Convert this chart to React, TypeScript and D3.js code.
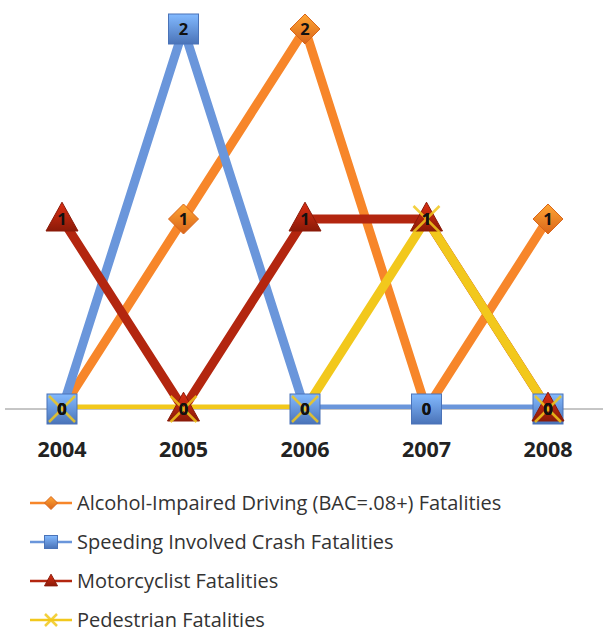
import React from "react";
import * as d3 from "d3";

const years = ["2004", "2005", "2006", "2007", "2008"];
const alcohol = [0, 1, 2, 0, 1];
const speeding = [0, 2, 0, 0, 0];
const motorcyclist = [1, 0, 1, 1, 0];
const pedestrian = [0, 0, 0, 1, 0];
const seriesNames = [
  "Alcohol-Impaired Driving (BAC=.08+) Fatalities",
  "Speeding Involved Crash Fatalities",
  "Motorcyclist Fatalities",
  "Pedestrian Fatalities",
];

const W = 605, H = 632;

const series = [
  { name: seriesNames[0], values: alcohol, color: "#F7862A", dark: "#D9651A", marker: "diamond" },
  { name: seriesNames[1], values: speeding, color: "#6A96DB", dark: "#4A73B8", marker: "square" },
  { name: seriesNames[2], values: motorcyclist, color: "#B3260F", dark: "#8A1A08", marker: "triangle" },
  { name: seriesNames[3], values: pedestrian, color: "#F2C81C", dark: "#D4AA10", marker: "x" },
];

function Marker({ type, x, y, s, color, dark, id }: any) {
  if (type === "diamond") {
    const r = s / 2;
    return <path d={`M${x},${y - r}L${x + r},${y}L${x},${y + r}L${x - r},${y}Z`} fill={`url(#g${id})`} stroke={dark} strokeWidth={1} />;
  }
  if (type === "square") {
    const r = s / 2;
    return <rect x={x - r} y={y - r} width={s} height={s} fill={`url(#g${id})`} stroke={dark} strokeWidth={1} />;
  }
  if (type === "triangle") {
    const r = s / 2;
    return <path d={`M${x},${y - r * 1.05}L${x + r},${y + r * 0.75}L${x - r},${y + r * 0.75}Z`} fill={`url(#g${id})`} stroke={dark} strokeWidth={1} />;
  }
  const r = s / 2;
  return (
    <g stroke={color} strokeWidth={2.5} opacity={0.85}>
      <line x1={x - r} y1={y - r} x2={x + r} y2={y + r} />
      <line x1={x - r} y1={y + r} x2={x + r} y2={y - r} />
    </g>
  );
}

export default function App() {
  const x = d3.scalePoint<string>().domain(years).range([62, 548]);
  const y = d3.scaleLinear().domain([0, 2]).range([409, 29]);
  const line = d3.line<number>().x((_, i) => x(years[i])!).y((d) => y(d));
  const sizes: Record<string, number> = { diamond: 30, square: 30, triangle: 32, x: 26 };

  return (
    <svg width={W} height={H} style={{ position: "absolute", left: 0, top: 0, background: "#fff" }}>
      <defs>
        <clipPath id="plot">
          <rect x={0} y={0} width={W} height={409} />
        </clipPath>
        {series.map((s, i) => (
          <linearGradient key={i} id={`g${i}`} x1="0" y1="0" x2="0" y2="1">
            <stop offset="0%" stopColor={d3.color(s.color)!.brighter(0.6).toString()} />
            <stop offset="100%" stopColor={s.dark} />
          </linearGradient>
        ))}
      </defs>
      <line x1={5} x2={603} y1={409} y2={409} stroke="#8c8c8c" strokeWidth={1} />
      <g clipPath="url(#plot)">
        {series.map((s, i) => (
          <path key={i} d={line(s.values)!} fill="none" stroke={s.color} strokeWidth={9} strokeLinejoin="miter" />
        ))}
      </g>
      {series.map((s, i) => (
        <g key={i}>
          {s.values.map((v, j) => (
            <Marker key={j} type={s.marker} x={x(years[j])} y={y(v)} s={sizes[s.marker]} color={s.color} dark={s.dark} id={i} />
          ))}
        </g>
      ))}
      {series.map((s, i) => (
        <g key={i}>
          {s.values.map((v, j) => (
            <text key={j} x={x(years[j])} y={y(v) + 6} textAnchor="middle" fontFamily="Open Sans, sans-serif" fontWeight="bold" fontSize={16.5} fill="#111">
              {v}
            </text>
          ))}
        </g>
      ))}
      {years.map((yr) => (
        <text key={yr} x={x(yr)} y={457} textAnchor="middle" fontFamily="Open Sans, sans-serif" fontWeight="bold" fontSize={21.5} fill="#222">
          {yr}
        </text>
      ))}
      {series.map((s, i) => {
        const cy = 503 + i * 39;
        return (
          <g key={i}>
            <line x1={30} x2={72} y1={cy} y2={cy} stroke={s.color} strokeWidth={2.5} />
            <Marker type={s.marker} x={51} y={cy} s={s.marker === "x" ? 12 : 13} color={s.color} dark={s.dark} id={i} />
            <text x={77} y={cy + 6.5} fontFamily="Open Sans, sans-serif" fontSize={20} fill="#333">
              {s.name}
            </text>
          </g>
        );
      })}
    </svg>
  );
}
